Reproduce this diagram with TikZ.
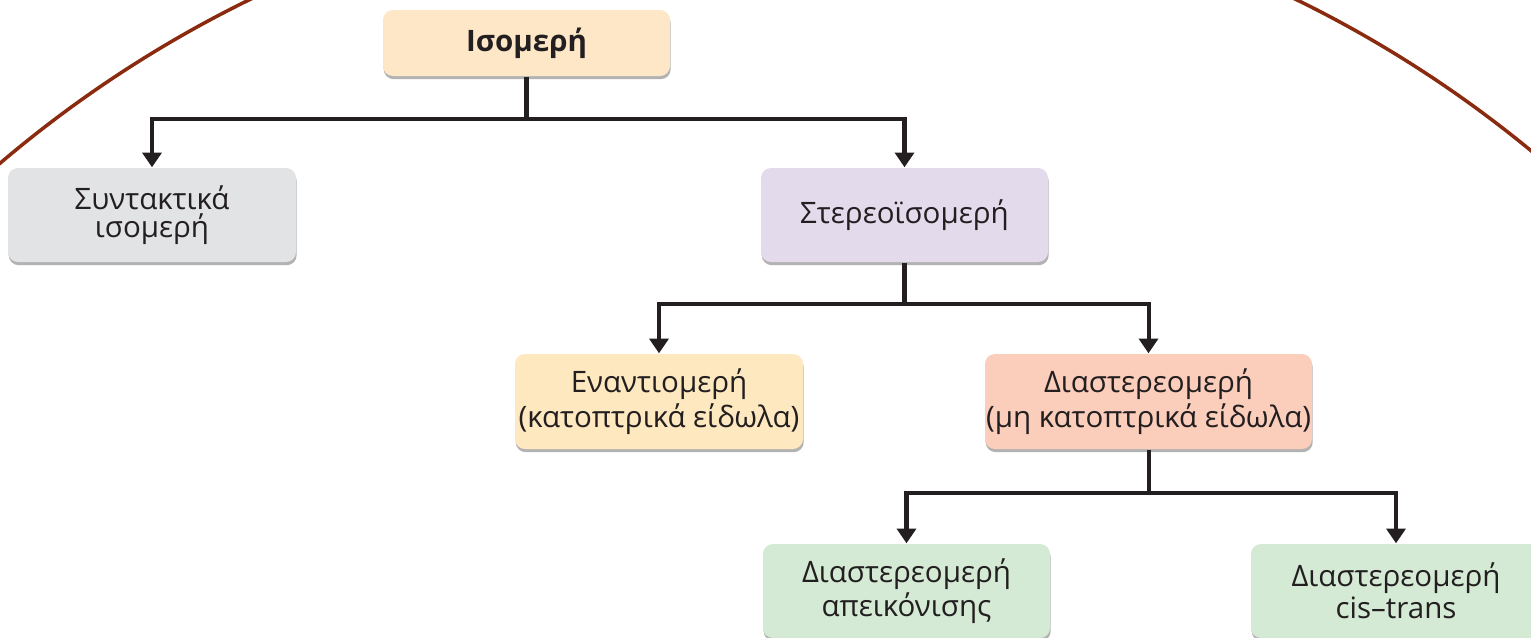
\documentclass[tikz,border=0pt]{standalone}
\usepackage{fontspec}
\setmainfont{Open Sans}
\usepackage{xcolor}
\usepackage{tikz}
\usetikzlibrary{arrows.meta,shadows}
\definecolor{IMPeach}{HTML}{FDE7C7}
\definecolor{IMGrey}{HTML}{E2E3E5}
\definecolor{IMLilac}{HTML}{E3DAEC}
\definecolor{IMYellow}{HTML}{FDE8BF}
\definecolor{IMSalmon}{HTML}{FBCDBB}
\definecolor{IMGreen}{HTML}{D4EAD4}
\definecolor{IMLine}{HTML}{231F20}
\definecolor{IMArc}{HTML}{8A2A0E}

\tikzset{
  imbox/.style={rounded corners=0.1cm,minimum height=0.94cm,inner sep=0pt,
    align=center,text=IMLine,
    font=\fontsize{8.4}{8.1}\selectfont,
    drop shadow={shadow xshift=0.2pt,shadow yshift=-0.9pt,fill=black!55,opacity=.55}},
  imlink/.style={IMLine,line width=1.15pt,-{Triangle[width=5.4pt,length=4.2pt]}},
  imtrunk/.style={IMLine,line width=1.15pt}
}

\begin{document}
\begin{tikzpicture}[x=1cm,y=1cm]
\path[use as bounding box] (0,0) rectangle (15.31,6.37);
\begin{scope}
\clip (0,0) rectangle (15.31,6.37);
\draw[IMArc,line width=1pt] (7.73,-4.35) circle (11.93);
\end{scope}
% boxes
\node[imbox,fill=IMPeach,minimum width=2.87cm,minimum height=0.66cm,font=\fontsize{8.4}{8.1}\selectfont\bfseries] (iso) at (5.265,5.94) {Ισομερή};
\node[imbox,fill=IMGrey,minimum width=2.88cm] (syn) at (1.52,4.22) {Συντακτικά\\ισομερή};
\node[imbox,fill=IMLilac,minimum width=2.87cm] (ster) at (9.045,4.22) {Στερεοϊσομερή};
\node[imbox,fill=IMYellow,minimum width=2.88cm,minimum height=0.95cm] (enan) at (6.59,2.355) {Εναντιομερή\\(κατοπτρικά είδωλα)};
\node[imbox,fill=IMSalmon,minimum width=3.27cm,minimum height=0.95cm] (dias) at (11.485,2.355) {Διαστερεομερή\\(μη κατοπτρικά είδωλα)};
\node[imbox,fill=IMGreen,minimum width=2.87cm] (dimg) at (9.065,0.46) {Διαστερεομερή\\απεικόνισης};
\node[imbox,fill=IMGreen,minimum width=2.90cm] (dct) at (13.96,0.46) {Διαστερεομερή\\cis--trans};
% links
\coordinate (j1) at (5.265,5.18);
\coordinate (j2) at (9.045,3.33);
\coordinate (j3) at (11.485,1.44);
\draw[imtrunk] (iso.south) -- (j1);
\draw[imlink] (j1) -| (syn.north);
\draw[imlink] (j1) -| (ster.north);
\draw[imtrunk] (ster.south) -- (j2);
\draw[imlink] (j2) -| (enan.north);
\draw[imlink] (j2) -| (dias.north);
\draw[imtrunk] (dias.south) -- (j3);
\draw[imlink] (j3) -| (dimg.north);
\draw[imlink] (j3) -| (dct.north);
\end{tikzpicture}
\end{document}
